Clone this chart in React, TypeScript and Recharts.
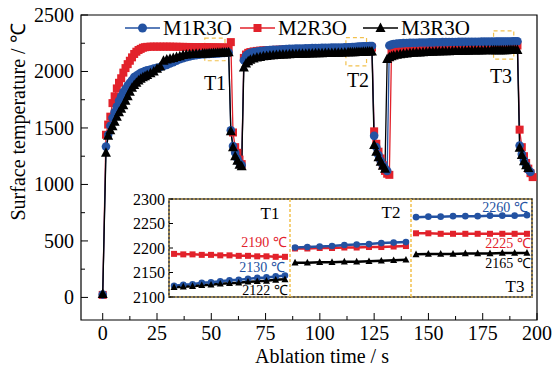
import React from "react";
import {
  LineChart,
  Line,
  XAxis,
  YAxis,
  ReferenceArea,
  ReferenceLine,
} from "recharts";

const FONT = "Liberation Serif, Times New Roman, serif";
const BLUE = "#2352a2";
const RED = "#e2222b";
const BLACK = "#000";
const GOLD = "#f2c14e";

// ablation time (s)
const time = [
  0, 1.5, 2.5, 3.5, 4.5, 5.5, 6.5, 7.5, 8.5, 9.5,
  10.5, 11.5, 12.5, 13.5, 14.5, 15.5, 16.5, 17.5, 18.5, 19.5,
  20.5, 22, 23.5, 25, 26.5, 28, 29.5, 31, 32.5, 34,
  35.5, 37, 38.5, 40, 41.5, 43, 44.5, 46, 47, 48,
  49, 50, 51, 52, 53, 54, 55, 56, 57, 58,
  59, 60, 61, 62, 63, 64,
  65, 66, 67, 68, 69.5, 71, 72.5, 74, 75.5, 77,
  78.5, 80, 81.5, 83, 84.5, 86, 87.5, 89, 90.5, 92,
  93.5, 95, 96.5, 98, 99.5, 101, 102.5, 104, 105.5, 107,
  108.5, 110, 111.5, 113, 114, 115, 116, 117, 118, 119,
  120, 121, 122, 123, 124, 125, 126, 127, 128, 129,
  130, 131, 132,
  133, 134, 135.5, 137, 138.5, 140, 141.5, 143, 144.5, 146,
  147.5, 149, 150.5, 152, 153.5, 155, 156.5, 158, 159.5, 161,
  162.5, 164, 165.5, 167, 168.5, 170, 171.5, 173, 174.5, 176,
  177.5, 179, 180, 181, 182, 183, 184, 185, 186, 187,
  188, 189, 190, 191, 192, 193, 194, 195, 196, 197,
  198,
];

const m1r3o = [
  25, 1335, 1440, 1520, 1590, 1640, 1690, 1740, 1780, 1815,
  1845, 1875, 1900, 1925, 1950, 1962, 1975, 1988, 1996, 2003,
  2010, 2018, 2025, 2032, 2040, 2048, 2058, 2070, 2082, 2095,
  2108, 2118, 2126, 2133, 2140, 2145, 2149, 2152, 2154, 2155,
  2156, 2157, 2158, 2159, 2160, 2162, 2163, 2165, 2166, 2168,
  1480, 1340, 1280, 1230, 1190, 1170,
  2100, 2140, 2155, 2165, 2172, 2177, 2181, 2184, 2187, 2189,
  2191, 2193, 2195, 2197, 2198, 2200, 2201, 2202, 2203, 2204,
  2205, 2206, 2207, 2207, 2208, 2209, 2209, 2210, 2211, 2211,
  2212, 2212, 2213, 2214, 2215, 2216, 2217, 2219, 2220, 2221,
  2222, 2223, 2224, 2225, 2226, 1430, 1330, 1260, 1210, 1170,
  1140, 1120, 2230,
  2238, 2243, 2247, 2249, 2251, 2252, 2253, 2254, 2255, 2256,
  2257, 2257, 2258, 2258, 2259, 2259, 2260, 2260, 2261, 2261,
  2261, 2262, 2262, 2262, 2263, 2263, 2263, 2263, 2264, 2264,
  2264, 2264, 2263, 2264, 2264, 2265, 2265, 2265, 2266, 2266,
  2266, 2267, 2267, 2268, 1345, 1270, 1215, 1170, 1130, 1110,
  null,
];

const m2r3o = [
  22, 1440, 1530, 1600, 1720, 1780, 1850, 1900, 1940, 1990,
  2030, 2065, 2095, 2125, 2155, 2175, 2190, 2200, 2210, 2215,
  2218, 2220, 2220, 2220, 2220, 2220, 2220, 2220, 2219, 2219,
  2218, 2218, 2217, 2217, 2216, 2216, 2215, 2215, 2214, 2214,
  2214, 2213, 2213, 2213, 2212, 2212, 2212, 2211, 2211, 2211,
  2260, 1460, 1330, 1280, 1220, 1180,
  2120, 2150, 2165, 2172, 2178, 2182, 2185, 2187, 2189, 2190,
  2191, 2192, 2193, 2194, 2195, 2196, 2196, 2197, 2197, 2198,
  2198, 2199, 2199, 2200, 2200, 2201, 2201, 2202, 2202, 2202,
  2203, 2203, 2204, 2205, 2205, 2206, 2206, 2207, 2207, 2208,
  2208, 2209, 2210, 2210, 2211, 1470, 1360, 1290, 1230, 1170,
  1120, 1095, 1085,
  2185, 2195, 2202, 2206, 2209, 2211, 2213, 2215, 2216, 2217,
  2218, 2219, 2220, 2221, 2222, 2222, 2223, 2224, 2224, 2225,
  2225, 2226, 2226, 2227, 2227, 2228, 2228, 2228, 2229, 2229,
  2229, 2229, 2230, 2230, 2229, 2229, 2229, 2229, 2229, 2229,
  2229, 2229, 2230, 2230, 1485, 1330, 1250, 1190, 1140, 1100,
  1065,
];

const m3r3o = [
  30, 1280, 1430, 1480, 1515, 1555, 1600, 1640, 1670, 1700,
  1740, 1780, 1820, 1855, 1880, 1900, 1920, 1935, 1948, 1958,
  1968, 1985, 2000, 2025, 2045, 2095, 2105, 2112, 2120, 2128,
  2135, 2145, 2150, 2153, 2155, 2157, 2158, 2159, 2160, 2160,
  2161, 2162, 2163, 2164, 2165, 2166, 2167, 2168, 2169, 2170,
  1470, 1330, 1250, 1210, 1175, 1160,
  2035, 2070, 2090, 2103, 2115, 2123, 2129, 2134, 2138, 2141,
  2144, 2146, 2148, 2150, 2151, 2153, 2154, 2155, 2156, 2157,
  2158, 2159, 2160, 2161, 2162, 2162, 2163, 2164, 2164, 2165,
  2166, 2166, 2167, 2170, 2170, 2171, 2171, 2172, 2172, 2173,
  2174, 2175, 2176, 2176, 2177, 1350, 1290, 1240, 1200, 1165,
  1140, 2110, 2125,
  2135, 2142, 2148, 2153, 2157, 2160, 2163, 2165, 2167, 2169,
  2171, 2172, 2174, 2175, 2176, 2177, 2178, 2179, 2180, 2181,
  2181, 2182, 2183, 2184, 2184, 2185, 2185, 2186, 2186, 2187,
  2187, 2187, 2187, 2188, 2188, 2188, 2189, 2189, 2189, 2190,
  2190, 2190, 2191, 2191, 1325, 1260, 1205, 1170, 1145, null,
  null,
];

const xTicks = [0, 12.5, 25, 37.5, 50, 62.5, 75, 87.5, 100, 112.5, 125, 137.5, 150, 162.5, 175, 187.5, 200];
const yTicks = [0, 250, 500, 750, 1000, 1250, 1500, 1750, 2000, 2250, 2500];

// zoomed windows T1 / T2 / T3
const t1M1 = [2123, 2125, 2126, 2129, 2130, 2132, 2134, 2135, 2137, 2139, 2140, 2142, 2144];
const t1M2 = [2188, 2187, 2187, 2186, 2186, 2185, 2185, 2184, 2184, 2183, 2183, 2182, 2182];
const t1M3 = [2120, 2121, 2122, 2124, 2125, 2127, 2128, 2129, 2131, 2132, 2133, 2135, 2136];
const t2M1 = [2201, 2202, 2203, 2204, 2206, 2207, 2208, 2210, 2211, 2212];
const t2M2 = [2199, 2199, 2200, 2200, 2201, 2201, 2202, 2202, 2203, 2204];
const t2M3 = [2170, 2170, 2171, 2171, 2172, 2172, 2173, 2174, 2175, 2176];
const t3M1 = [2263, 2264, 2264, 2265, 2265, 2265, 2266, 2266, 2266, 2267];
const t3M2 = [2230, 2230, 2229, 2229, 2229, 2229, 2229, 2229, 2229, 2229];
const t3M3 = [2187, 2188, 2188, 2188, 2189, 2189, 2189, 2190, 2190, 2190];
const insetTicks = [2100, 2150, 2200, 2250, 2300];

const mainRows = time.map((t, i) => ({ t, m1: m1r3o[i], m2: m2r3o[i], m3: m3r3o[i] }));

// spread a window's samples across its panel (panel width 12 units)
const panel = (vals: number[], p: number) =>
  vals.map((v, i) => ({ x: p * 12 + 0.5 + (i * 11) / (vals.length - 1), v }));

function circleDot(r: number, color: string) {
  return (p: any) =>
    p.cx == null || p.cy == null ? <g key={p.index} /> : (
      <circle key={p.index} cx={p.cx} cy={p.cy} r={r} fill={color} />
    );
}
function squareDot(s: number, color: string) {
  return (p: any) =>
    p.cx == null || p.cy == null ? <g key={p.index} /> : (
      <rect key={p.index} x={p.cx - s / 2} y={p.cy - s / 2} width={s} height={s} fill={color} />
    );
}
function triDot(s: number, color: string) {
  return (p: any) =>
    p.cx == null || p.cy == null ? <g key={p.index} /> : (
      <polygon
        key={p.index}
        points={`${p.cx},${p.cy - s * 0.55} ${p.cx - s / 2},${p.cy + s * 0.4} ${p.cx + s / 2},${p.cy + s * 0.4}`}
        fill={color}
      />
    );
}

function XTick(props: any) {
  const { x, y, payload } = props;
  const major = payload.value % 25 === 0;
  return (
    <g>
      <line x1={x} x2={x} y1={y} y2={y - (major ? 7 : 4)} stroke="#000" />
      {major && (
        <text x={x} y={y + 20} textAnchor="middle" style={{ fontFamily: FONT }} fontSize={20} fill="#000">
          {payload.value}
        </text>
      )}
    </g>
  );
}

function YTick(props: any) {
  const { x, y, payload } = props;
  const major = payload.value % 500 === 0;
  return (
    <g>
      <line x1={x} x2={x + (major ? 7 : 4)} y1={y} y2={y} stroke="#000" />
      {major && (
        <text x={x - 7} y={y + 7} textAnchor="end" style={{ fontFamily: FONT }} fontSize={20} fill="#000">
          {payload.value}
        </text>
      )}
    </g>
  );
}

function InsetTick(props: any) {
  const { x, y, payload } = props;
  return (
    <g>
      <line x1={x} x2={x + 4} y1={y} y2={y} stroke="#000" />
      <text x={x - 4} y={y + 5.5} textAnchor="end" style={{ fontFamily: FONT }} fontSize={16} fill="#000">
        {payload.value}
      </text>
    </g>
  );
}

const legendItems = [
  { name: "M1R3O", x: 125, color: BLUE, shape: "circle" },
  { name: "M2R3O", x: 240, color: RED, shape: "square" },
  { name: "M3R3O", x: 363, color: BLACK, shape: "tri" },
];

function Marker({ shape, cx, cy, color }: { shape: string; cx: number; cy: number; color: string }) {
  if (shape === "circle") return <circle cx={cx} cy={cy} r={4.5} fill={color} />;
  if (shape === "square") return <rect x={cx - 4} y={cy - 4} width={8} height={8} fill={color} />;
  return <polygon points={`${cx},${cy - 5.5} ${cx - 5},${cy + 4} ${cx + 5},${cy + 4}`} fill={color} />;
}

const insetSeries = [
  { vals: [t1M2, t2M2, t3M2], color: RED, dot: squareDot(6, RED) },
  { vals: [t1M1, t2M1, t3M1], color: BLUE, dot: circleDot(3.3, BLUE) },
  { vals: [t1M3, t2M3, t3M3], color: BLACK, dot: triDot(7, BLACK) },
];

export default function App() {
  return (
    <div style={{ position: "fixed", left: 0, top: 0, width: 555, height: 372, background: "#fff" }}>
      <LineChart
        width={555}
        height={372}
        data={mainRows}
        margin={{ top: 15, right: 18, bottom: 0, left: 0 }}
      >
        <XAxis
          dataKey="t"
          type="number"
          domain={[-10, 200]}
          ticks={xTicks}
          interval={0}
          height={52}
          tickSize={0}
          tickMargin={0}
          axisLine={false}
          tick={<XTick />}
        />
        <YAxis
          type="number"
          domain={[-200, 2500]}
          ticks={yTicks}
          interval={0}
          width={81}
          tickSize={0}
          tickMargin={0}
          axisLine={false}
          tick={<YTick />}
        />
        <ReferenceArea x1={-10} x2={200} y1={-200} y2={2500} fill="none" stroke="#000" strokeWidth={1.2} />
        <Line dataKey="m2" stroke={RED} strokeWidth={1.3} dot={squareDot(8, RED)} isAnimationActive={false} />
        <Line dataKey="m1" stroke={BLUE} strokeWidth={1.3} dot={circleDot(4.3, BLUE)} isAnimationActive={false} />
        <Line dataKey="m3" stroke={BLACK} strokeWidth={1.3} dot={triDot(10, BLACK)} isAnimationActive={false} />
        <ReferenceArea x1={47} x2={56.3} y1={2095} y2={2295} fill="none" stroke={GOLD} strokeDasharray="4 3" strokeWidth={1.2} />
        <ReferenceArea x1={112} x2={121.5} y1={2050} y2={2300} fill="none" stroke={GOLD} strokeDasharray="4 3" strokeWidth={1.2} />
        <ReferenceArea x1={180} x2={189.3} y1={2110} y2={2360} fill="none" stroke={GOLD} strokeDasharray="4 3" strokeWidth={1.2} />
      </LineChart>

      <div style={{ position: "absolute", left: 124, top: 189, width: 410, height: 118, background: "#fff" }}>
        <LineChart width={410} height={118} margin={{ top: 10, right: 2, bottom: 10, left: 0 }}>
          <XAxis dataKey="x" type="number" domain={[0, 36]} hide />
          <YAxis
            type="number"
            domain={[2100, 2300]}
            ticks={insetTicks}
            interval={0}
            width={45}
            tickSize={0}
            tickMargin={0}
            axisLine={false}
            tick={<InsetTick />}
          />
          {insetSeries.map((s, si) =>
            s.vals.map((vals, p) => (
              <Line
                key={`${si}-${p}`}
                data={panel(vals, p)}
                dataKey="v"
                stroke={s.color}
                strokeWidth={2.5}
                dot={s.dot}
                isAnimationActive={false}
              />
            ))
          )}
          <ReferenceArea x1={0} x2={36} y1={2100} y2={2300} fill="none" stroke="#222" strokeWidth={1.5} />
          <ReferenceArea x1={0} x2={36} y1={2100} y2={2300} fill="none" stroke={GOLD} strokeDasharray="2 2" strokeWidth={1} />
          <ReferenceLine x={12} stroke={GOLD} strokeDasharray="3 2" strokeWidth={1.5} />
          <ReferenceLine x={24} stroke={GOLD} strokeDasharray="3 2" strokeWidth={1.5} />
        </LineChart>
      </div>

      <svg
        width={555}
        height={372}
        style={{ position: "absolute", left: 0, top: 0, pointerEvents: "none", fontFamily: FONT }}
      >
        {legendItems.map((it) => (
          <g key={it.name}>
            <line x1={it.x} x2={it.x + 35} y1={28} y2={28} stroke={it.color} strokeWidth={1.3} />
            <Marker shape={it.shape} cx={it.x + 17.5} cy={28} color={it.color} />
            <text x={it.x + 38} y={35} fontSize={21} fill="#000">{it.name}</text>
          </g>
        ))}
        <text x={215} y={90} fontSize={20} textAnchor="middle">T1</text>
        <text x={358} y={87} fontSize={20} textAnchor="middle">T2</text>
        <text x={501} y={83} fontSize={20} textAnchor="middle">T3</text>

        <text x={270} y={219} fontSize={17} textAnchor="middle">T1</text>
        <text x={391} y={218} fontSize={17} textAnchor="middle">T2</text>
        <text x={515} y={292} fontSize={17} textAnchor="middle">T3</text>

        <text x={264} y={247} fontSize={14} textAnchor="middle" fill={RED}>2190 ℃</text>
        <text x={262} y={272} fontSize={14} textAnchor="middle" fill={BLUE}>2130 ℃</text>
        <text x={265} y={295} fontSize={14} textAnchor="middle" fill={BLACK}>2122 ℃</text>
        <text x={505} y={212} fontSize={14} textAnchor="middle" fill={BLUE}>2260 ℃</text>
        <text x={508} y={248} fontSize={14} textAnchor="middle" fill={RED}>2225 ℃</text>
        <text x={508} y={268} fontSize={14} textAnchor="middle" fill={BLACK}>2165 ℃</text>

        <text x={322} y={363} fontSize={20} textAnchor="middle">Ablation time / s</text>
        <text x={25} y={122} fontSize={20} textAnchor="middle" transform="rotate(-90 25 122)">
          Surface temperature / ℃
        </text>
      </svg>
    </div>
  );
}
